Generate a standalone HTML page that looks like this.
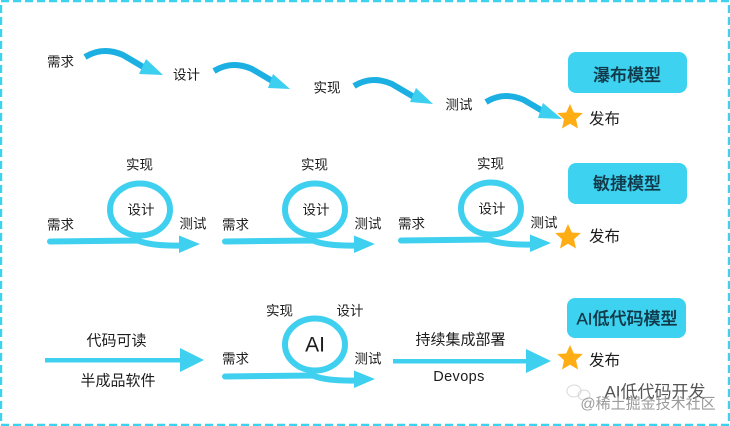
<!DOCTYPE html>
<html>
<head>
<meta charset="utf-8">
<style>
html,body{margin:0;padding:0;background:#fff;width:730px;height:426px;overflow:hidden}
svg{display:block}
text{font-family:"Liberation Sans","Noto Sans CJK SC",sans-serif;fill:#1c1c1c;text-anchor:middle;dominant-baseline:central}
.s{font-size:13.5px}
.m{font-size:15px}
.l{font-size:15.5px}
.t{font-size:17px;fill:#12394a;font-weight:500;stroke:#12394a;stroke-width:.25px}
</style>
</head>
<body>
<svg width="730" height="426" viewBox="0 0 730 426" xmlns="http://www.w3.org/2000/svg">
<rect width="730" height="426" fill="#fff"/>
<rect x="1" y="1" width="728" height="424" fill="none" stroke="#3dd3ee" stroke-width="2.4" stroke-dasharray="8 4"/>

<defs>
<g id="wave">
<path d="M0 0C10 -6 22 -9 38 -2L60 11" fill="none" stroke="#1cb0e2" stroke-width="6"/>
</g>
<g id="loop">
<ellipse cx="140" cy="209.5" rx="30" ry="26" fill="none" stroke="#3fd0f0" stroke-width="6"/>
<path d="M50 241.500L138 240.500C146 244 158 246 182 245.500" fill="none" stroke="#3fd0f0" stroke-width="6" stroke-linecap="round"/>
<polygon points="179,235.500 200,244 179,253" fill="#3fd0f0"/>
</g>
<polygon id="star" points="0,-13 3.8,-4.5 12.8,-4 6,2.2 8,11.5 0,6.7 -8,11.5 -6,2.2 -12.8,-4 -3.800,-4.500" fill="#ffad14"/>
</defs>

<!-- Row 1 -->
<use href="#wave" x="85" y="57"/>
<polygon points="146,59 163,75 139,74" fill="#3dcff0"/>
<use href="#wave" x="214" y="71"/>
<polygon points="273,74 290,89 268,88" fill="#3dcff0"/>
<use href="#wave" x="354" y="86"/>
<polygon points="416,88 433,104 410,102" fill="#3dcff0"/>
<use href="#wave" x="486" y="102"/>
<polygon points="543,103 562,119 538,118" fill="#3dcff0"/>
<text class="s" x="60.5" y="62">需求</text>
<text class="s" x="186.5" y="75">设计</text>
<text class="s" x="327" y="88">实现</text>
<text class="s" x="459" y="105">测试</text>
<rect x="568" y="52" width="119" height="41" rx="8" fill="#3dd3f0"/>
<text class="t" x="627" y="75.5">瀑布模型</text>
<use href="#star" x="570" y="117"/>
<text class="l" x="604.5" y="119.5">发布</text>

<!-- Row 2 -->
<use href="#loop"/>
<use href="#loop" x="175"/>
<use href="#loop" x="351" y="-1"/>
<text class="s" x="139.5" y="165">实现</text>
<text class="s" x="141" y="210">设计</text>
<text class="s" x="60.5" y="225">需求</text>
<text class="s" x="193" y="224">测试</text>
<text class="s" x="314.5" y="165">实现</text>
<text class="s" x="316" y="210">设计</text>
<text class="s" x="235.5" y="225">需求</text>
<text class="s" x="368" y="224">测试</text>
<text class="s" x="490.5" y="164">实现</text>
<text class="s" x="492" y="209">设计</text>
<text class="s" x="411.5" y="224">需求</text>
<text class="s" x="544" y="223">测试</text>
<rect x="568" y="163" width="119" height="41" rx="8" fill="#3dd3f0"/>
<text class="t" x="627" y="184">敏捷模型</text>
<use href="#star" x="568" y="237"/>
<text class="l" x="604.5" y="237">发布</text>

<!-- Row 3 -->
<rect x="45" y="358" width="137" height="4.5" fill="#3fd0f0"/>
<polygon points="180,348 204,360 180,372" fill="#3fd0f0"/>
<text class="m" x="116.5" y="341">代码可读</text>
<text class="m" x="118" y="381">半成品软件</text>

<use href="#loop" x="175" y="135"/>
<text class="s" x="279.5" y="311">实现</text>
<text class="s" x="350" y="311">设计</text>
<text x="315" y="345" style="font-size:21px">AI</text>
<text class="s" x="235.5" y="359">需求</text>
<text class="s" x="368" y="359">测试</text>

<rect x="393" y="359" width="135" height="4.5" fill="#3fd0f0"/>
<polygon points="526,349 551,361 526,373" fill="#3fd0f0"/>
<text class="m" x="460.5" y="340">持续集成部署</text>
<text x="459" y="377" style="font-size:14.5px;letter-spacing:.4px">Devops</text>

<rect x="567" y="298" width="119" height="40" rx="8" fill="#3dd3f0"/>
<text class="t" x="627" y="319">AI低代码模型</text>
<use href="#star" x="570" y="358"/>
<text class="l" x="604.5" y="361">发布</text>

<!-- Watermark -->
<ellipse cx="574" cy="391" rx="7" ry="6" fill="none" stroke="#d8d8d8" stroke-width="1"/>
<ellipse cx="584" cy="395" rx="6" ry="5" fill="none" stroke="#d8d8d8" stroke-width="1"/>
<text x="655" y="392" style="font-size:17px;fill:#555">AI低代码开发</text>
<text x="648" y="404" style="font-size:15px;fill:#9a9a9a">@稀土掘金技术社区</text>
</svg>
</body>
</html>
